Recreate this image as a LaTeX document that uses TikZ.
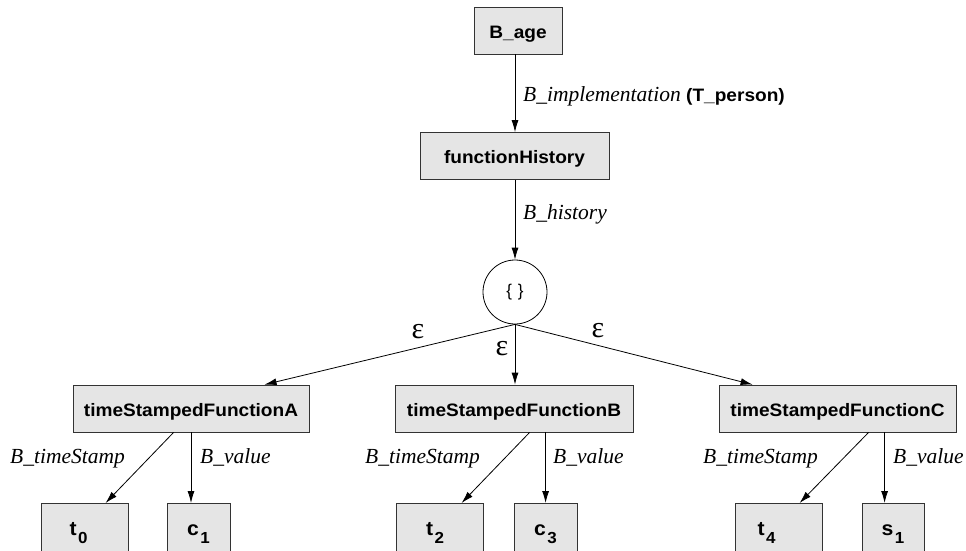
\documentclass[tikz,border=0pt]{standalone}
\usepackage{fontspec}
\setmainfont{Liberation Serif}
\newfontfamily\boxfont[FakeStretch=1.06]{Liberation Sans}
\newfontfamily\plainsans{Liberation Sans}
\usetikzlibrary{arrows.meta}

% bold sans label with a lowered index, as in t_0; the optional
% argument pads the right side so the label sits left of centre
\newcommand{\leaftext}[3][0pt]{{\fontsize{20}{20}\selectfont #2}\kern1.5pt\raisebox{-8pt}{\fontsize{16}{16}\selectfont #3}\kern#1}

\begin{document}
\begin{tikzpicture}[x=1pt,y=-1pt,
  box/.style={draw=black!80, fill=black!10, line width=0.8pt, inner sep=0pt,
    minimum height=47pt, font=\fontsize{18}{18}\selectfont\boxfont\bfseries,
    text height=15pt, text depth=0pt},
  leaf/.style={box, anchor=north, minimum height=75pt, text height=2pt, text depth=13pt},
  arr/.style={line width=0.8pt, -{Latex[length=12pt,width=7pt]}},
  elabel/.style={font=\fontsize{21.5}{21.5}\selectfont\itshape, inner sep=0pt, anchor=base west},
  eps/.style={font=\fontsize{30}{30}\selectfont, inner sep=0pt}]
\useasboundingbox (0,0) rectangle (966,550);
\clip (0,0) rectangle (966,550);

% upper chain
\node[box, minimum width=88pt] (age) at (518,30.5) {B\_age};
\node[box, minimum width=189pt] (fh) at (514.5,156) {functionHistory};
\node[draw, circle, line width=0.8pt, minimum size=64pt, inner sep=0pt,
  font=\fontsize{17}{17}\selectfont\plainsans] (set) at (515,292) {\{\,\,\}};

% timestamped functions
\node[box, minimum width=236pt] (fa) at (191,408.5) {timeStampedFunctionA};
\node[box, minimum width=238pt] (fb) at (514,408.5) {timeStampedFunctionB};
\node[box, minimum width=237pt] (fc) at (837.5,408.5) {timeStampedFunctionC};

% leaves
\node[leaf, minimum width=87pt] (t0) at (84.5,503) {\leaftext[12pt]{t}{0}};
\node[leaf, minimum width=63pt] (c1) at (198.5,503) {\leaftext{c}{1}};
\node[leaf, minimum width=87pt] (t2) at (439.5,503) {\leaftext[9pt]{t}{2}};
\node[leaf, minimum width=63pt] (c3) at (545.5,503) {\leaftext{c}{3}};
\node[leaf, minimum width=87pt] (t4) at (778.5,503) {\leaftext[24pt]{t}{4}};
\node[leaf, minimum width=62pt] (s1) at (893,503) {\leaftext{s}{1}};

% connectors
\draw[arr] (age.south -| set.center) -- (fh.north -| set.center);
\draw[arr] (fh.south -| set.center) -- (set.north);
\draw[arr] (set.south) -- ([xshift=192pt]fa.north west);
\draw[arr] (set.south) -- (fb.north -| set.center);
\draw[arr] (set.south) -- ([xshift=34pt]fc.north west);

\coordinate (av) at (fa.south);
\coordinate (bv) at ([xshift=151pt]fb.south west);
\coordinate (cv) at ([xshift=166pt]fc.south west);
\draw[arr] ([xshift=101pt]fa.south west) -- ([xshift=65pt]t0.north west);
\draw[arr] (av) -- (av |- c1.north);
\draw[arr] ([xshift=135pt]fb.south west) -- ([xshift=66pt]t2.north west);
\draw[arr] (bv) -- (bv |- c3.north);
\draw[arr] ([xshift=150pt]fc.south west) -- ([xshift=65pt]t4.north west);
\draw[arr] (cv) -- (cv |- s1.north);

% connector labels
\node[elabel] (limpl) at (523,101) {B\_implementation \upshape{\fontsize{18}{18}\selectfont\boxfont\bfseries (T\_person)}};
\node[elabel] (lhist) at (523,219) {B\_history};
\node[eps] (e1) at (418,332) {ε};
\node[eps] (e2) at (502,349) {ε};
\node[eps] (e3) at (598,331) {ε};
\node[elabel] (ts1) at (10,463) {B\_timeStamp};
\node[elabel] (v1) at (200,463) {B\_value};
\node[elabel] (ts2) at (365,463) {B\_timeStamp};
\node[elabel] (v2) at (553,463) {B\_value};
\node[elabel] (ts3) at (703,463) {B\_timeStamp};
\node[elabel] (v3) at (893,463) {B\_value};
\end{tikzpicture}
\end{document}
